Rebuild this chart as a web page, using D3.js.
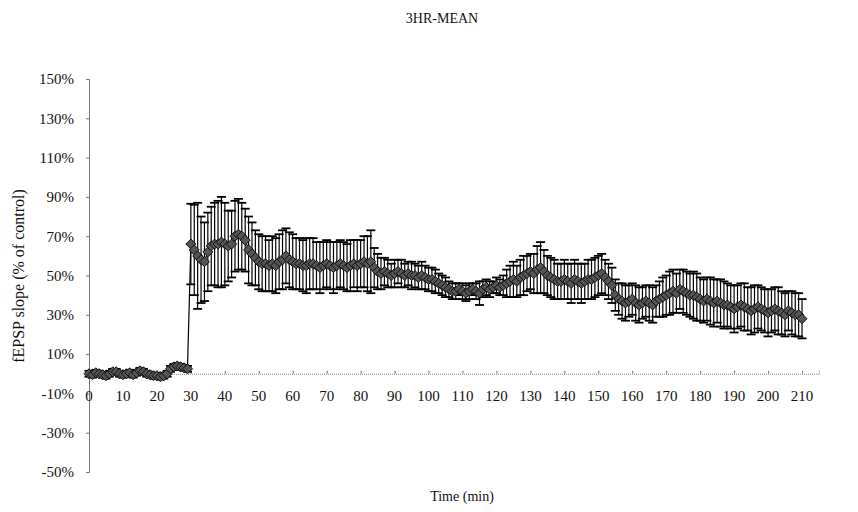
<!DOCTYPE html>
<html><head><meta charset="utf-8">
<script src="https://cdn.jsdelivr.net/npm/d3@7"></script>
<style>body{margin:0;background:#fff}svg{display:block}text{font-family:"Liberation Serif","Times New Roman",serif;fill:#111}</style>
</head><body><svg id="c" width="858" height="512"></svg>
<script>
const title = "3HR-MEAN";
const xLabel = "Time (min)";
const yLabel = "fEPSP slope (% of control)";
const xTicks = [0,10,20,30,40,50,60,70,80,90,100,110,120,130,140,150,160,170,180,190,200,210];
const yTicks = [150,130,110,90,70,50,30,10,-10,-30,-50];
// time in minutes, one sample per minute 0..210
const times = d3.range(0, 211);
// mean fEPSP slope (% of control)
const meanValues = [
  // 0-29 baseline
  0,-0.5,0.5,0,-0.5,-1,0,1,1,0,-0.5,0,0.5,-0.5,0.5,1.5,1,0,-0.5,-1,-1,-1.5,-1,0,2.5,3.5,4,3.5,3,2.5,
  // 30-35
  66,63,60,58,57,62,
  // 36-42
  65,66,66,67,66,65,66,
  // 43-46
  70,71,70,68,
  // 47-50
  63,61,59,57,
  // 51-56
  56,56,55,56,55,57,
  // 57-65
  58,60,58,57,56,56,55,55,56,
  // 66-83
  56,55,54,55,56,55,54,55,56,55,54,55,56,55,56,57,56,57,
  // 84-100
  54,52,51,52,51,50,51,52,51,50,51,50,50,49,50,49,48,
  // 101-105
  48,47,46,45,44,
  // 106-115
  43,42,42,43,42,41,42,43,42,41,
  // 116-122
  43,44,43,44,45,44,45,
  // 123-128
  46,47,48,47,49,50,
  // 129-138
  51,52,51,53,54,52,50,49,48,47,
  // 139-147
  47,48,47,46,48,47,46,47,48,
  // 148-154
  48,49,50,51,49,47,45,
  // 155-161
  40,38,37,36,37,38,36,
  // 162-168
  35,36,37,36,35,37,38,
  // 169-177
  39,40,41,42,41,43,42,41,40,
  // 178-187
  40,39,38,37,38,37,36,37,36,35,
  // 188-197
  35,34,33,34,35,34,33,32,33,34,
  // 198-203
  33,32,31,32,33,32,
  // 204-210
  31,30,32,31,30,30,28
];
// standard error (%)
const semValues = [
  // 0-29
  1.5,1.5,1.5,1.5,1.5,1.5,1.5,1.5,1.5,1.5,1.5,1.5,1.5,1.5,1.5,1.5,1.5,1.5,1.5,1.5,1.5,1.5,1.5,1.5,1.5,1.5,1.5,1.5,1.5,1.5,
  // 30-35
  20.5,23,27,22,20,20,
  // 36-42
  20,21,22,23,21,18,17,
  // 43-46
  18,18,17,16,
  // 47-50
  17,16,14,14,
  // 51-56
  14,14,13,14,14,14,
  // 57-65
  15,14,14,14,13,13,13,14,13,
  // 66-83
  13,12,13,12,12,12,13,12,12,12,12,13,12,13,12,13,14,16,
  // 84-100
  10,9,8,7,7,6,7,6,7,6,6,7,6,6,7,6,6,
  // 101-105
  6,6,5,5,5,
  // 106-115
  4,4,4,3,4,4,4,3,4,6,
  // 116-122
  4,4,4,3,4,4,5,
  // 123-128
  7,8,9,8,9,10,
  // 129-138
  9,9,10,12,13,11,10,10,10,9,
  // 139-147
  9,10,9,10,10,9,10,9,10,
  // 148-154
  10,10,10,10,9,9,9,
  // 155-161
  8,8,9,9,8,8,9,
  // 162-168
  9,8,8,9,9,8,9,
  // 169-177
  10,10,11,11,10,10,11,11,11,
  // 178-187
  12,12,11,11,11,12,12,11,12,12,
  // 188-197
  11,11,12,11,11,12,11,12,12,11,
  // 198-203
  11,11,12,11,11,12,
  // 204-210
  11,11,10,11,11,11,10
];

const data = times.map((t,i)=>({t, m: meanValues[i], s: semValues[i]}));

const svg = d3.select("#c");
const x = d3.scaleLinear().domain([0, 215]).range([89, 819]);
const y = d3.scaleLinear().domain([-50, 150]).range([472, 79]);

// title
svg.append("text").attr("x", 442).attr("y", 23).attr("text-anchor","middle")
  .style("font-size","14px").text(title);

// y axis
const yAxis = d3.axisLeft(y).tickValues(yTicks).tickSize(3).tickPadding(12)
  .tickFormat(d => d + "%");
const gy = svg.append("g").attr("transform", `translate(${x(0)},0)`).call(yAxis);
gy.select(".domain").attr("stroke","#777");
gy.selectAll(".tick line").attr("stroke","#777");
gy.selectAll(".tick text").style("font-size","15px").attr("fill","#111");

// x axis at zero
const xAxis = d3.axisTop(x).tickValues(xTicks).tickSize(3).tickFormat("");
const gx = svg.append("g").attr("transform", `translate(0,${y(0)})`).call(xAxis);
gx.select(".domain").attr("stroke","#888").attr("stroke-dasharray","1,1");
gx.selectAll(".tick line").attr("stroke","#777");
svg.append("g").selectAll("text").data(xTicks).join("text")
  .attr("x", d => x(d)).attr("y", y(0) + 27).attr("text-anchor","middle")
  .style("font-size","15px").text(d => d);

// axis titles
svg.append("text").attr("x", 462).attr("y", 501).attr("text-anchor","middle")
  .style("font-size","14px").text(xLabel);
svg.append("text").attr("transform", `translate(24,${276}) rotate(-90)`).attr("text-anchor","middle")
  .style("font-size","16px").text(yLabel);

// error bars
const eb = svg.append("g").attr("stroke","#000").attr("stroke-width",1.2);
eb.selectAll("line.v").data(data).join("line").attr("class","v")
  .attr("x1", d => x(d.t)).attr("x2", d => x(d.t))
  .attr("y1", d => y(d.m + d.s)).attr("y2", d => y(d.m - d.s));
eb.selectAll("line.t").data(data).join("line").attr("class","t")
  .attr("x1", d => x(d.t) - 4.5).attr("x2", d => x(d.t) + 4.5)
  .attr("y1", d => y(d.m + d.s)).attr("y2", d => y(d.m + d.s)).attr("stroke-width",1.8);
eb.selectAll("line.b").data(data).join("line").attr("class","b")
  .attr("x1", d => x(d.t) - 4.5).attr("x2", d => x(d.t) + 4.5)
  .attr("y1", d => y(d.m - d.s)).attr("y2", d => y(d.m - d.s)).attr("stroke-width",1.8);

// mean line
const line = d3.line().x(d => x(d.t)).y(d => y(d.m));
svg.append("path").datum(data).attr("d", line).attr("fill","none").attr("stroke","#000").attr("stroke-width",1.2);

// diamond markers (square-proportioned)
const diamond = { draw(ctx, size) { const r = Math.sqrt(size / 2);
  ctx.moveTo(0, -r); ctx.lineTo(r, 0); ctx.lineTo(0, r); ctx.lineTo(-r, 0); ctx.closePath(); } };
const sym = d3.symbol().type(diamond).size(50);
svg.append("g").selectAll("path").data(data).join("path")
  .attr("transform", d => `translate(${x(d.t)},${y(d.m)})`)
  .attr("d", sym).attr("fill","#555").attr("stroke","#111").attr("stroke-width",1);
</script></body></html>
